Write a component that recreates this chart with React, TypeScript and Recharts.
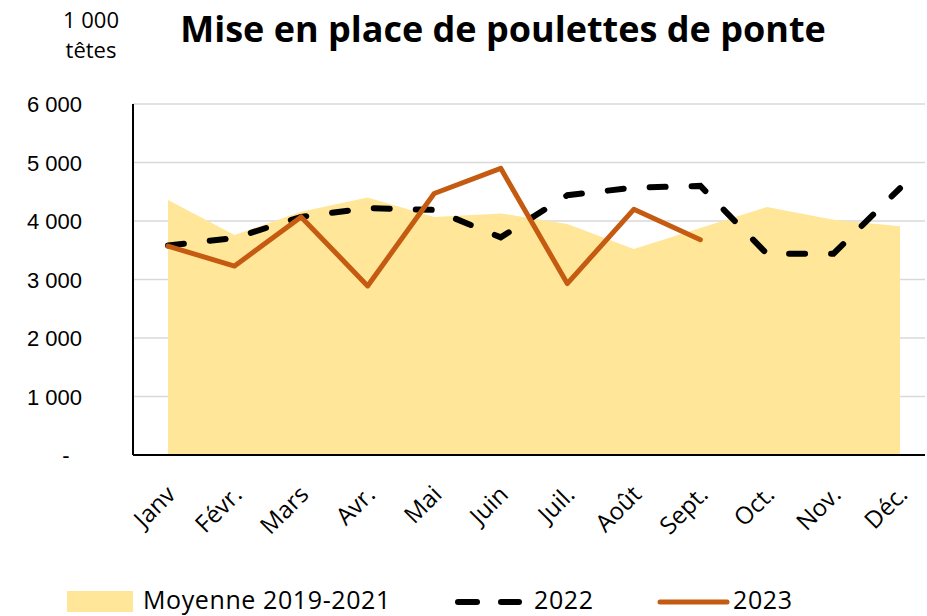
import { ComposedChart, Area, Line, XAxis, YAxis, CartesianGrid, ReferenceLine } from 'recharts'

const months = ['Janv', 'Févr.', 'Mars', 'Avr.', 'Mai', 'Juin', 'Juil.', 'Août', 'Sept.', 'Oct.', 'Nov.', 'Déc.']
const moyenne = [4360, 3760, 4160, 4400, 4070, 4130, 3950, 3520, 3880, 4240, 4020, 3910]
const y2022 = [3580, 3710, 4070, 4220, 4190, 3720, 4440, 4570, 4600, 3440, 3440, 4560]
const y2023: (number | null)[] = [3570, 3230, 4070, 2890, 4470, 4900, 2930, 4200, 3680, null, null, null]
const yTicks = [0, 1000, 2000, 3000, 4000, 5000, 6000]

const data = months.map((m, i) => ({ month: m, moyenne: moyenne[i], y2022: y2022[i], y2023: y2023[i] }))

const FONT = '"Open Sans", Lato, sans-serif'
const NUM_FONT = '"Liberation Sans", Arial, sans-serif'
const ORANGE = '#C55A11'
const YELLOW = '#FFE699'

const fmt = (v: number) => (v === 0 ? '-' : v.toLocaleString('fr-FR').replace(/\u202f|\u00a0/g, ' '))

const YTick = (props: any) => {
  const { y, payload } = props
  if (payload.value === 0) {
    return (
      <text x={66} y={y} dy={8} textAnchor="middle" fontSize={22} fill="#000" fontFamily={NUM_FONT}>
        -
      </text>
    )
  }
  return (
    <text x={82} y={y} dy={8} textAnchor="end" fontSize={22} fill="#000" fontFamily={NUM_FONT}>
      {fmt(payload.value)}
    </text>
  )
}

const XTick = (props: any) => {
  const { x, y, payload } = props
  const ax = x + 9
  const ay = y + 33
  return (
    <text x={ax} y={ay} textAnchor="end" fontSize={24} fill="#000" fontFamily={FONT} transform={`rotate(-45 ${ax} ${ay})`}>
      {payload.value}
    </text>
  )
}

export default function App() {
  return (
    <div style={{ position: 'absolute', left: 0, top: 0, width: 927, height: 616, background: '#fff', overflow: 'hidden' }}>
      <div style={{ position: 'absolute', left: 46, top: 4, width: 90, textAlign: 'center', fontFamily: FONT, fontSize: 22, lineHeight: '30px', color: '#000' }}>
        1 000
        <br />
        têtes
      </div>
      <div style={{ position: 'absolute', left: 103, top: 4, width: 800, textAlign: 'center', fontFamily: FONT, fontWeight: 700, fontSize: 36, color: '#000', whiteSpace: 'nowrap' }}>
        Mise en place de poulettes de ponte
      </div>
      <ComposedChart width={927} height={616} data={data} margin={{ top: 104, right: 2, bottom: 61, left: 0 }}>
        <CartesianGrid vertical={false} stroke="#d9d9d9" strokeWidth={1.5} />
        <XAxis
          dataKey="month"
          padding={{ left: 35, right: 25 }}
          height={100}
          tickLine={false}
          axisLine={false}
          tick={<XTick />}
          interval={0}
        />
        <YAxis
          domain={[0, 6000]}
          ticks={yTicks}
          width={133}
          tickLine={false}
          axisLine={{ stroke: '#000', strokeWidth: 2 }}
          tick={<YTick />}
        />
        <ReferenceLine y={0} stroke="#000" strokeWidth={2} />
        <Area dataKey="moyenne" type="linear" fill={YELLOW} fillOpacity={1} stroke="none" isAnimationActive={false} />
        <Line
          dataKey="y2022"
          type="linear"
          stroke="#000"
          strokeWidth={6}
          strokeDasharray="16 26"
          strokeLinecap="round"
          dot={false}
          isAnimationActive={false}
        />
        <Line
          dataKey="y2023"
          type="linear"
          stroke={ORANGE}
          strokeWidth={5}
          strokeLinejoin="round"
          strokeLinecap="round"
          dot={false}
          isAnimationActive={false}
        />
      </ComposedChart>
      <div style={{ position: 'absolute', left: 0, top: 584, width: 927, height: 32, fontFamily: FONT, fontSize: 25, letterSpacing: 0.6, color: '#000', whiteSpace: 'nowrap' }}>
        <div style={{ position: 'absolute', left: 67, top: 7, width: 66, height: 21, background: YELLOW }} />
        <div style={{ position: 'absolute', left: 143, top: -2 }}>Moyenne 2019-2021</div>
        <svg style={{ position: 'absolute', left: 450, top: 8 }} width={80} height={20}>
          <line x1={8} y1={10} x2={27} y2={10} stroke="#000" strokeWidth={6} strokeLinecap="round" />
          <line x1={51} y1={10} x2={69} y2={10} stroke="#000" strokeWidth={6} strokeLinecap="round" />
        </svg>
        <div style={{ position: 'absolute', left: 534, top: -2 }}>2022</div>
        <svg style={{ position: 'absolute', left: 655, top: 8 }} width={80} height={20}>
          <line x1={5} y1={10} x2={72} y2={10} stroke={ORANGE} strokeWidth={5} strokeLinecap="round" />
        </svg>
        <div style={{ position: 'absolute', left: 733, top: -2 }}>2023</div>
      </div>
    </div>
  )
}
